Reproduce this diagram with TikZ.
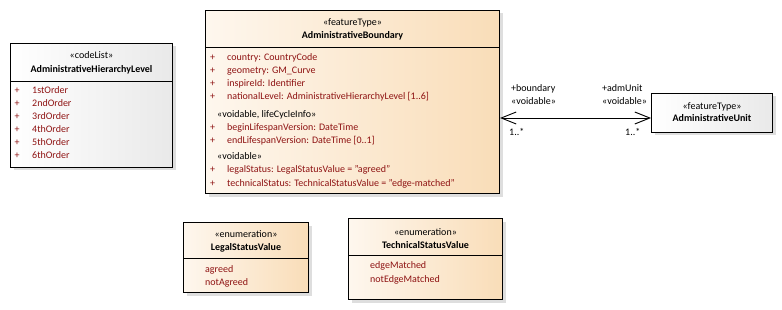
\documentclass[tikz,border=0pt]{standalone}
\usepackage{fontspec}
\setmainfont{Carlito}
\usetikzlibrary{positioning,shadows,arrows.meta}

\definecolor{featpeach}{HTML}{F9DDB8}
\definecolor{featcream}{HTML}{FEF7EE}
\definecolor{plaingray}{HTML}{E9E9E9}
\definecolor{attrred}{HTML}{8E1212}

\begin{document}
\begin{tikzpicture}[
    x=1pt, y=-1pt,
    font=\fontsize{10}{12}\selectfont,
    classbox/.style={rectangle, draw, line width=1pt, anchor=north west, inner sep=0pt,
        drop shadow={shadow xshift=3pt, shadow yshift=-3pt, fill=black!13, opacity=1}},
    feature/.style={classbox, left color=featcream, right color=featpeach},
    plain/.style={classbox, left color=white, right color=plaingray},
    divider/.style={line width=0.8pt},
    stereo/.style={anchor=base, inner sep=0pt},
    title/.style={anchor=base, inner sep=0pt, font=\fontsize{10}{12}\selectfont\bfseries},
    plus/.style={anchor=base, inner sep=0pt, text=attrred},
    attr/.style={anchor=base west, inner sep=0pt, text=attrred},
    role/.style={anchor=base west, inner sep=0pt},
    assoc/.style={line width=0.9pt, {Straight Barb[length=15pt,width=12pt]}-{Straight Barb[length=15pt,width=12pt]}}
]
\useasboundingbox (0,0) rectangle (782,310);

% Boxes
\node (hl)  [plain,   minimum width=162pt, minimum height=124pt] at (10,43)  {};
\node (ab)  [feature, minimum width=294pt, minimum height=183pt] at (205,10) {};
\node (au)  [plain,   minimum width=121pt, minimum height=39pt]  at (651,93) {};
\node (lsv) [feature, minimum width=125pt, minimum height=70pt]  at (183,222) {};
\node (tsv) [feature, minimum width=154pt, minimum height=81pt]  at (348,218) {};

% Compartment lines
\draw[divider] (hl.west |- 0,81)   -- (hl.east |- 0,81);
\draw[divider] (ab.west |- 0,47)   -- (ab.east |- 0,47);
\draw[divider] (lsv.west |- 0,258) -- (lsv.east |- 0,258);
\draw[divider] (tsv.west |- 0,255) -- (tsv.east |- 0,255);

% AdministrativeHierarchyLevel
\node (hl-st) [stereo] at (hl.north |- 0,59) {«codeList»};
\node (hl-nm) [title]  at (hl.north |- 0,73) {AdministrativeHierarchyLevel};
\foreach \y/\v in {94/1stOrder, 107/2ndOrder, 120/3rdOrder, 133/4thOrder, 146/5thOrder, 159/6thOrder} {
    \node (hl-p\y) [plus] at (17,\y) {+};
    \node (hl-a\y) [attr] at (32,\y) {\v};
}

% AdministrativeBoundary
\node (ab-st) [stereo] at (ab.north |- 0,26) {«featureType»};
\node (ab-nm) [title]  at (ab.north |- 0,39) {AdministrativeBoundary};
\foreach \y/\v in {61/country: CountryCode, 74/geometry: GM\_Curve, 87/inspireId: Identifier,
        100/nationalLevel: AdministrativeHierarchyLevel {[}1..6{]},
        131/beginLifespanVersion: DateTime, 144/endLifespanVersion: DateTime {[}0..1{]},
        173/legalStatus: LegalStatusValue = "agreed",
        186/technicalStatus: TechnicalStatusValue = "edge-matched"} {
    \node (ab-p\y) [plus] at (212.5,\y) {+};
    \node (ab-a\y) [attr] at (227,\y) {\v};
}
\node (ab-lc)  [role] at (217,118) {«voidable, lifeCycleInfo»};
\node (ab-vd)  [role] at (217,160) {«voidable»};

% AdministrativeUnit
\node (au-st) [stereo] at (au.north |- 0,109.5) {«featureType»};
\node (au-nm) [title]  at (au.north |- 0,122)   {AdministrativeUnit};

% LegalStatusValue
\node (lsv-st) [stereo] at (lsv.north |- 0,237) {«enumeration»};
\node (lsv-nm) [title]  at (lsv.north |- 0,250) {LegalStatusValue};
\node (lsv-a1) [attr] at (205,272) {agreed};
\node (lsv-a2) [attr] at (205,285) {notAgreed};

% TechnicalStatusValue
\node (tsv-st) [stereo] at (tsv.north |- 0,235) {«enumeration»};
\node (tsv-nm) [title]  at (tsv.north |- 0,248) {TechnicalStatusValue};
\node (tsv-a1) [attr] at (370,268.5) {edgeMatched};
\node (tsv-a2) [attr] at (370,282)   {notEdgeMatched};

% Association
\coordinate (lnk) at (575,118);
\draw[assoc] (ab.east |- lnk) -- (au.west |- lnk);
\node (r-bd)  [role] at (511,91.5) {+boundary};
\node (r-bdv) [role] at (511,105)  {«voidable»};
\node (r-au)  [role] at (602,91.5) {+admUnit};
\node (r-auv) [role] at (602,105)  {«voidable»};
\node (m-bd)  [role] at (509,136)  {1..*};
\node (m-au)  [role] at (625,136)  {1..*};

\end{tikzpicture}
\end{document}
